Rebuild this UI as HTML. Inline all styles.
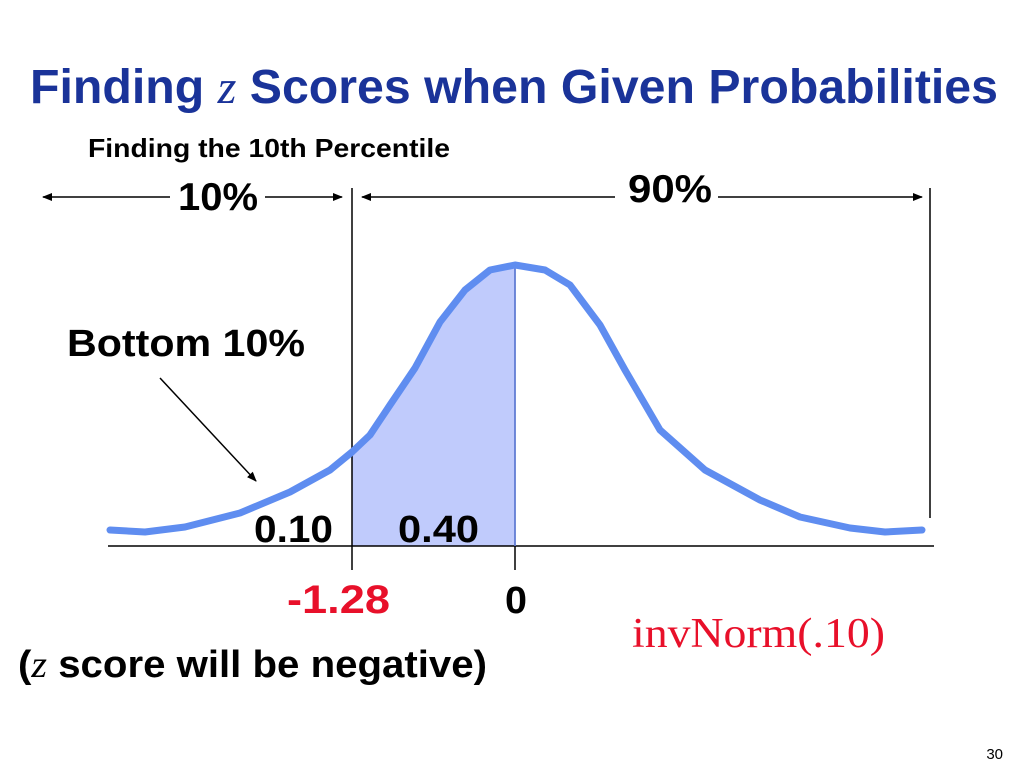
<!DOCTYPE html>
<html><head><meta charset="utf-8"><style>
body{margin:0;width:1024px;height:768px;background:#fff;overflow:hidden;font-family:"Liberation Sans",sans-serif}
svg{position:absolute;left:0;top:0}
</style></head><body>
<svg width="1024" height="768" viewBox="0 0 1024 768">
<defs>
<marker id="ah" markerWidth="10" markerHeight="8" refX="9" refY="4" orient="auto" markerUnits="userSpaceOnUse"><path d="M0,0 L10,4 L0,8 Z" fill="#000"/></marker>
</defs>
<text x="30" y="103" font-size="48" font-weight="bold" fill="#1a3399" textLength="968" lengthAdjust="spacingAndGlyphs">Finding <tspan font-family="Liberation Serif" font-style="italic" font-weight="normal">z</tspan> Scores when Given Probabilities</text>
<text x="88" y="157" font-size="26" font-weight="bold" fill="#000" textLength="362" lengthAdjust="spacingAndGlyphs">Finding the 10th Percentile</text>
<path d="M352,546 L352,452 L370,435 L390,405 L415,368 L440,322 L465,290 L490,270 L515,265 L515,546 Z" fill="#c0cbfc"/>
<line x1="108" y1="546" x2="934" y2="546" stroke="#000" stroke-width="1.5"/>
<line x1="352" y1="188" x2="352" y2="570" stroke="#000" stroke-width="1.5"/>
<line x1="515" y1="265" x2="515" y2="570" stroke="#000" stroke-width="1.5"/>
<line x1="930" y1="188" x2="930" y2="518" stroke="#000" stroke-width="1.5"/>
<line x1="515" y1="265" x2="515" y2="546" stroke="#6f8ff5" stroke-width="1.5"/>
<polyline fill="none" stroke="#5f8df0" stroke-width="7" stroke-linejoin="round" stroke-linecap="round" points="110,530 145,532 185,527 240,513 290,492 330,470 352,452 370,435 390,405 415,368 440,322 465,290 490,270 515,265 545,270 570,285 600,325 625,370 660,430 705,470 760,500 800,517 850,528 885,532 922,530"/>
<line x1="170" y1="197" x2="43" y2="197" stroke="#000" stroke-width="1.5" marker-end="url(#ah)"/>
<line x1="265" y1="197" x2="342" y2="197" stroke="#000" stroke-width="1.5" marker-end="url(#ah)"/>
<line x1="615" y1="197" x2="362" y2="197" stroke="#000" stroke-width="1.5" marker-end="url(#ah)"/>
<line x1="718" y1="197" x2="922" y2="197" stroke="#000" stroke-width="1.5" marker-end="url(#ah)"/>
<text x="178" y="210" font-size="39" font-weight="bold" textLength="80" lengthAdjust="spacingAndGlyphs">10%</text>
<text x="628" y="202" font-size="39" font-weight="bold" textLength="84" lengthAdjust="spacingAndGlyphs">90%</text>
<text x="67" y="356" font-size="38" font-weight="bold" textLength="238" lengthAdjust="spacingAndGlyphs">Bottom 10%</text>
<line x1="160" y1="378" x2="256" y2="481" stroke="#000" stroke-width="1.5" marker-end="url(#ah)"/>
<text x="254" y="542" font-size="38" font-weight="bold" textLength="79" lengthAdjust="spacingAndGlyphs">0.10</text>
<text x="398" y="542" font-size="38" font-weight="bold" textLength="81" lengthAdjust="spacingAndGlyphs">0.40</text>
<text x="287" y="613" font-size="40" font-weight="bold" fill="#e8102a" textLength="103" lengthAdjust="spacingAndGlyphs">-1.28</text>
<text x="505" y="613" font-size="38" font-weight="bold" textLength="22" lengthAdjust="spacingAndGlyphs">0</text>
<text x="632" y="647" font-size="42" font-family="Liberation Serif" fill="#e8102a" textLength="253" lengthAdjust="spacingAndGlyphs">invNorm(.10)</text>
<text x="18" y="677" font-size="38" font-weight="bold" textLength="469" lengthAdjust="spacingAndGlyphs">(<tspan font-family="Liberation Serif" font-style="italic" font-weight="normal">z</tspan> score will be negative)</text>
<text x="1003" y="759" text-anchor="end" font-size="15">30</text>
</svg>
</body></html>
